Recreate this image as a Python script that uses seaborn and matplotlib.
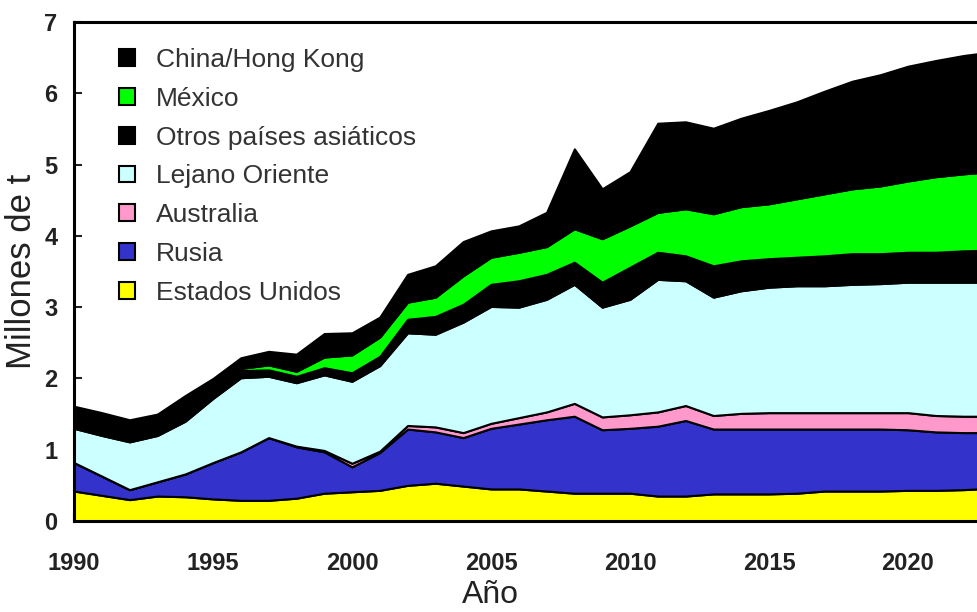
import numpy as np
import pandas as pd
import matplotlib
matplotlib.use("Agg")
import matplotlib.pyplot as plt
from matplotlib.patches import Patch
import seaborn as sns

years = list(range(1990, 2024))
estados_unidos = [.42, .36, .30, .35, .34, .31, .29, .29, .32, .39, .41, .43, .50, .53, .49, .45, .45,
                  .42, .39, .39, .39, .35, .35, .38, .38, .38, .39, .42, .42, .42, .43, .43, .44, .46]
rusia = [.40, .27, .14, .20, .32, .51, .68, .88, .72, .58, .35, .53, .79, .72, .68, .85, .91,
         1.00, 1.08, .89, .91, .98, 1.06, .91, .91, .91, .90, .87, .87, .87, .85, .82, .80, .78]
australia = [0, 0, 0, 0, 0, 0, 0, 0, .01, .02, .05, .02, .05, .07, .07, .07, .09,
             .11, .18, .18, .19, .20, .21, .19, .22, .23, .23, .23, .23, .23, .24, .23, .23, .23]
lejano_oriente = [.48, .57, .67, .65, .74, .90, 1.04, .86, .89, 1.06, 1.15, 1.20, 1.30, 1.30, 1.55, 1.64, 1.55,
                  1.58, 1.67, 1.54, 1.62, 1.86, 1.75, 1.66, 1.72, 1.76, 1.78, 1.78, 1.80, 1.81, 1.83, 1.87, 1.88, 1.88]
otros_asiaticos = [.10, .10, .10, .06, .07, .08, .10, .09, .09, .10, .12, .13, .19, .25, .25, .31, .37,
                   .35, .31, .35, .45, .38, .35, .44, .42, .40, .40, .42, .43, .42, .42, .42, .44, .45]
mexico = [0, 0, 0, .02, .03, .03, .03, .07, .07, .15, .25, .27, .24, .27, .40, .38, .40,
          .39, .47, .61, .58, .56, .66, .73, .76, .77, .82, .87, .91, .95, 1.00, 1.06, 1.08, 1.10]
china_hk = [.21, .22, .21, .22, .26, .17, .15, .19, .24, .33, .31, .28, .39, .44, .48, .37, .37,
            .48, 1.12, .70, .76, 1.25, 1.22, 1.20, 1.24, 1.31, 1.36, 1.44, 1.51, 1.56, 1.61, 1.63, 1.66, 1.68]

series_names = ["Estados Unidos", "Rusia", "Australia", "Lejano Oriente",
                "Otros países asiáticos", "México", "China/Hong Kong"]
series_values = [estados_unidos, rusia, australia, lejano_oriente, otros_asiaticos, mexico, china_hk]
colors = ["#FFFF00", "#3333CC", "#FF99CC", "#CCFFFF", "#000000", "#00FF00", "#000000"]
x_ticks = [1990, 1995, 2000, 2005, 2010, 2015, 2020]
y_ticks = [0, 1, 2, 3, 4, 5, 6, 7]

df = pd.DataFrame({n: v for n, v in zip(series_names, series_values)}, index=years)

sns.set_theme(style="ticks")
plt.rcParams["font.family"] = ["Liberation Sans", "DejaVu Sans"]

fig = plt.figure(figsize=(9.78, 6.12), dpi=100)
ax = fig.add_axes([74 / 978, 91 / 612, 904 / 978, 499 / 612])

ax.stackplot(df.index, *[df[c].values for c in series_names], colors=colors,
             edgecolor="black", linewidth=1.5)

ax.set_xlim(1990, 2022.52)
ax.set_ylim(0, 7)
ax.set_xticks(x_ticks)
ax.set_yticks(y_ticks)

tick_font = dict(family=["Liberation Sans", "DejaVu Sans"], weight="bold", size=17)
ax.set_xticklabels([str(t) for t in x_ticks], **tick_font, color="#222222")
ax.set_yticklabels([str(t) for t in y_ticks], **tick_font, color="#222222")
ax.tick_params(axis="x", direction="in", length=6, width=1.5, pad=22, colors="#222222")
ax.tick_params(axis="y", direction="in", length=6, width=1.5, pad=12, colors="#222222")

for s in ["left", "bottom", "top"]:
    ax.spines[s].set_linewidth(2.2)
    ax.spines[s].set_color("black")
ax.spines["right"].set_visible(False)

ax.set_xlabel("Año", fontsize=23, color="#222222")
ax.xaxis.set_label_coords((490 - 74) / 904, -0.118)
ax.set_ylabel("Millones de t", fontsize=25, color="#222222")
ax.yaxis.set_label_coords(-0.040, 0.5)

handles = [Patch(facecolor=colors[i], edgecolor="black", linewidth=1.5, label=series_names[i])
           for i in range(len(series_names) - 1, -1, -1)]
leg = ax.legend(handles=handles, loc="upper left", bbox_to_anchor=(0.05, 0.948), frameon=False,
                borderpad=0, borderaxespad=0,
                fontsize=19, handlelength=0.6, handleheight=0.6, handletextpad=0.8,
                labelspacing=0.56, labelcolor="#333333")

fig.savefig("out.png", dpi=100)
